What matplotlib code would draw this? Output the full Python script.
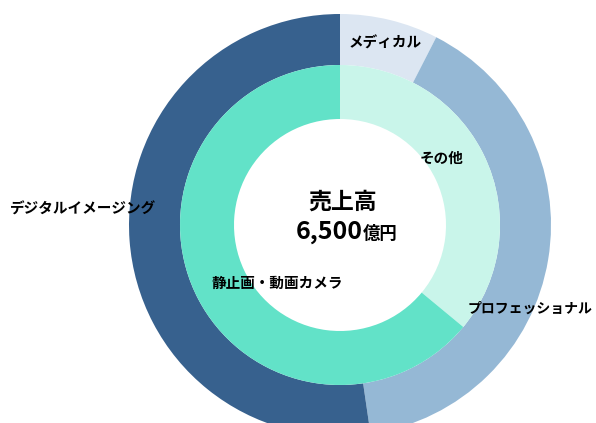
import matplotlib.pyplot as plt

plt.rcParams["font.family"] = ["Noto Sans CJK JP", "DejaVu Sans"]

# --- data (億円) -------------------------------------------------------
outer_labels = ["メディカル", "プロフェッショナル", "デジタルイメージング"]
outer_values = [490, 2610, 3400]
outer_colors = ["#DCE6F2", "#95B8D5", "#37618E"]

inner_labels = ["その他", "静止画・動画カメラ"]
inner_values = [2340, 4160]
inner_colors = ["#C9F5EA", "#62E2C8"]

total_label = "売上高"
total_value = "6,500"
total_unit = "億円"

# --- layout in pixel-like data units ----------------------------------
W, H = 596, 423
CX, CY = 340, H - 225
R_OUT, R_MID, R_IN = 211, 160, 106

fig = plt.figure(figsize=(W / 100, H / 100), dpi=100)
ax = fig.add_axes([0, 0, 1, 1])

edge = dict(edgecolor="none", linewidth=0)
ax.pie(outer_values, colors=outer_colors, startangle=90, counterclock=False,
       radius=R_OUT, center=(CX, CY),
       wedgeprops=dict(width=R_OUT - R_MID, **edge))
ax.pie(inner_values, colors=inner_colors, startangle=90, counterclock=False,
       radius=R_MID, center=(CX, CY),
       wedgeprops=dict(width=R_MID - R_IN, **edge))

ax.set_xlim(0, W)
ax.set_ylim(0, H)
ax.set_aspect("equal")
ax.axis("off")

# segment labels: (x, y from top, font size)
label_pos = {
    "メディカル": (385, 43, 10.5),
    "プロフェッショナル": (530, 309, 10),
    "デジタルイメージング": (83, 209, 10.5),
    "その他": (442, 158, 10.5),
    "静止画・動画カメラ": (277, 283, 10.5),
}
for name, (x, y, fs) in label_pos.items():
    ax.text(x, H - y, name, ha="center", va="center", fontsize=fs,
            fontweight="bold", color="black")

# centre total
ax.text(343, H - 202, total_label, ha="center", va="center", fontsize=16.5,
        fontweight="bold")
ax.text(363, H - 239, total_value, ha="right", va="baseline", fontsize=18,
        fontweight="bold")
ax.text(363, H - 239, total_unit, ha="left", va="baseline", fontsize=12.5,
        fontweight="bold")

fig.savefig("out.png", dpi=100)
